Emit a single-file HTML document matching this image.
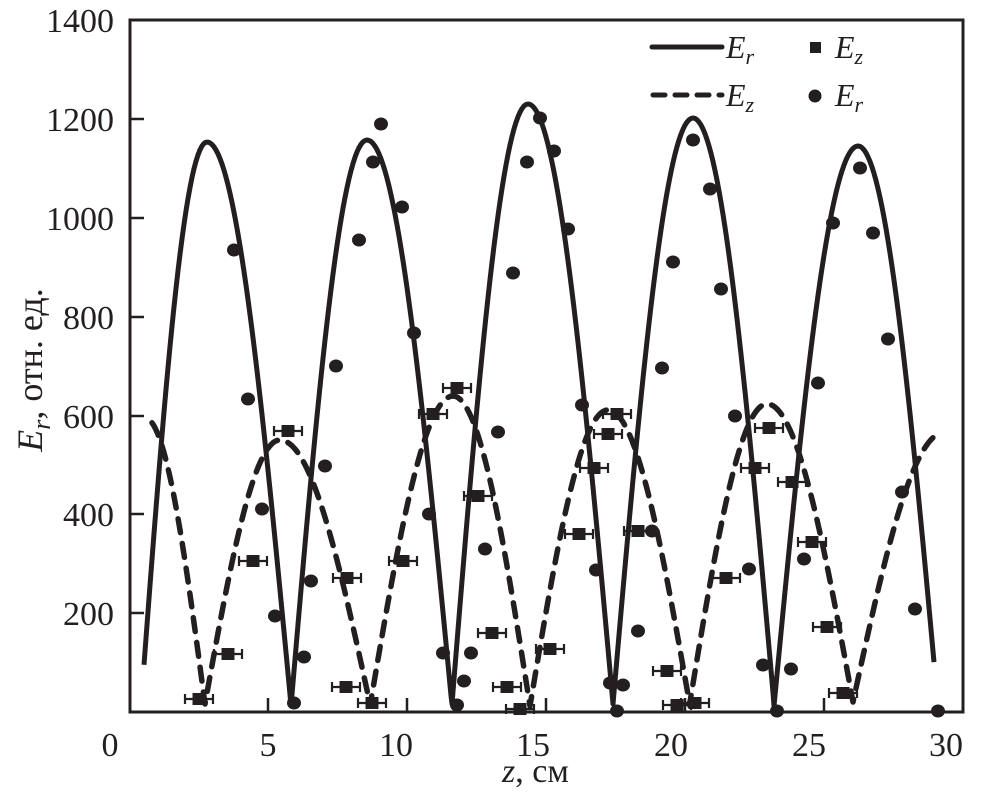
<!DOCTYPE html>
<html><head><meta charset="utf-8"><style>
html,body{margin:0;padding:0;background:#fff;}
svg{display:block;}
text{font-family:"Liberation Serif","Times New Roman",serif;fill:#231f20;}
</style></head><body>
<svg id="s" width="984" height="793" viewBox="0 0 984 793" xmlns="http://www.w3.org/2000/svg">
<rect x="130" y="20" width="833" height="692" fill="none" stroke="#231f20" stroke-width="3"/>
<g stroke="#231f20" stroke-width="2.5">
<line x1="130" y1="613" x2="144" y2="613"/><line x1="130" y1="514" x2="144" y2="514"/>
<line x1="130" y1="416" x2="144" y2="416"/><line x1="130" y1="317" x2="144" y2="317"/>
<line x1="130" y1="218" x2="144" y2="218"/><line x1="130" y1="119" x2="144" y2="119"/>
<line x1="268" y1="712" x2="268" y2="698"/><line x1="407" y1="712" x2="407" y2="698"/>
<line x1="546" y1="712" x2="546" y2="698"/><line x1="685" y1="712" x2="685" y2="698"/>
<line x1="824" y1="712" x2="824" y2="698"/>
</g>
<g font-size="34" text-anchor="end">
<text x="114" y="625">200</text><text x="114" y="526">400</text><text x="114" y="428">600</text>
<text x="114" y="329">800</text><text x="114" y="230">1000</text><text x="114" y="131">1200</text>
<text x="114" y="32">1400</text>
</g>
<g font-size="34" text-anchor="middle">
<text x="110" y="756">0</text><text x="268" y="756">5</text><text x="396" y="756">10</text>
<text x="533" y="756">15</text><text x="671" y="756">20</text><text x="809" y="756">25</text>
<text x="946" y="756">30</text>
</g>
<text x="502" y="782" font-size="34"><tspan font-style="italic">z</tspan>, см</text>
<text transform="translate(42,370) rotate(-90)" font-size="36" text-anchor="middle"><tspan font-style="italic">E</tspan><tspan font-style="italic" font-size="26" dy="8">r</tspan><tspan dy="-8">, отн. ед.</tspan></text>
<!-- legend -->
<line x1="652" y1="47" x2="722" y2="47" stroke="#231f20" stroke-width="5" stroke-linecap="round"/>
<line x1="653" y1="95" x2="722" y2="95" stroke="#231f20" stroke-width="5" stroke-linecap="round" stroke-dasharray="12,10"/>
<text x="726" y="58" font-size="32" font-style="italic">E<tspan font-size="22" dy="6">r</tspan></text>
<text x="726" y="106" font-size="32" font-style="italic">E<tspan font-size="22" dy="6">z</tspan></text>
<rect x="810" y="42" width="11" height="11" fill="#231f20"/>
<circle cx="815" cy="96" r="6.5" fill="#231f20"/>
<text x="835" y="58" font-size="32" font-style="italic">E<tspan font-size="22" dy="6">z</tspan></text>
<text x="835" y="106" font-size="32" font-style="italic">E<tspan font-size="22" dy="6">r</tspan></text>
<g id="g"></g>
</svg>
<script>
var NS="http://www.w3.org/2000/svg",g=document.getElementById('g');
function arcPts(x0,xp,x1,py,base,xs,xe){var p=[];for(var x=xs;x<=xe+0.01;x+=2){var t=x<xp?(x-x0)/(xp-x0)*0.5:0.5+(x-xp)/(x1-xp)*0.5;var y=base-(base-py)*Math.sin(Math.PI*t);p.push([x,y]);}return p;}
function path(pts,dash){var e=document.createElementNS(NS,'path');var d='M'+pts.map(function(q){return q[0].toFixed(1)+','+q[1].toFixed(1)}).join('L');e.setAttribute('d',d);e.setAttribute('fill','none');e.setAttribute('stroke','#231f20');e.setAttribute('stroke-width',dash?'5.5':'5');e.setAttribute('stroke-linejoin','round');if(dash){e.setAttribute('stroke-dasharray','14,11');e.setAttribute('stroke-linecap','round');}g.appendChild(e);}
var s=[].concat(arcPts(141,207,291,142,705,144,291),arcPts(291,367,452,140,706,291,452),arcPts(452,528,613,104,704,452,613),arcPts(613,693,774,118,704,613,774),arcPts(774,858,938,146,706,774,935));
path(s,false);
var d=[].concat(arcPts(100,145,205,418,704,152,205),arcPts(205,280,370,440,704,205,370),arcPts(370,453,530,396,706,370,530),arcPts(530,608,690,410,706,530,690),arcPts(690,767,853,404,702,690,853),arcPts(853,945,1030,432,702,853,935));
path(d,true);
var C=[[234,250],[248,399],[262,509],[275,616],[304,657],[294,703],[311,581],[325,466],[336,366],[359,240],[373,162],[381,124],[402,207],[414,333],[429,514],[443,653],[471,653],[464,681],[457,705],[485,549],[498,432],[513,273],[527,162],[540,118],[554,151],[568,229],[582,405],[596,570],[610,683],[623,685],[617,711],[638,631],[652,531],[662,368],[673,262],[693,140],[710,189],[721,289],[735,416],[749,569],[763,665],[791,669],[777,711],[804,559],[818,383],[833,223],[860,168],[873,233],[888,339],[902,492],[915,609],[938,711]];
C.forEach(function(c){var e=document.createElementNS(NS,'ellipse');e.setAttribute('cx',c[0]);e.setAttribute('cy',c[1]);e.setAttribute('rx',7);e.setAttribute('ry',6.5);e.setAttribute('fill','#231f20');g.appendChild(e);});
var S=[[199,699],[228,654],[253,561],[288,431],[347,578],[346,687],[372,703],[403,561],[457,388],[433,414],[478,496],[492,633],[507,687],[520,709],[550,649],[579,534],[594,468],[608,434],[617,414],[638,531],[667,671],[677,705],[695,703],[726,578],[755,468],[769,428],[792,482],[812,542],[827,627],[843,693]];
S.forEach(function(c){var x=c[0],y=c[1];var p=document.createElementNS(NS,'path');p.setAttribute('d','M'+(x-14)+','+y+'H'+(x+14)+'M'+(x-14)+','+(y-5)+'V'+(y+5)+'M'+(x+14)+','+(y-5)+'V'+(y+5));p.setAttribute('stroke','#231f20');p.setAttribute('stroke-width','2.2');g.appendChild(p);var r=document.createElementNS(NS,'rect');r.setAttribute('x',x-6.5);r.setAttribute('y',y-6);r.setAttribute('width',13);r.setAttribute('height',12);r.setAttribute('fill','#231f20');g.appendChild(r);});
</script>
</body></html>
